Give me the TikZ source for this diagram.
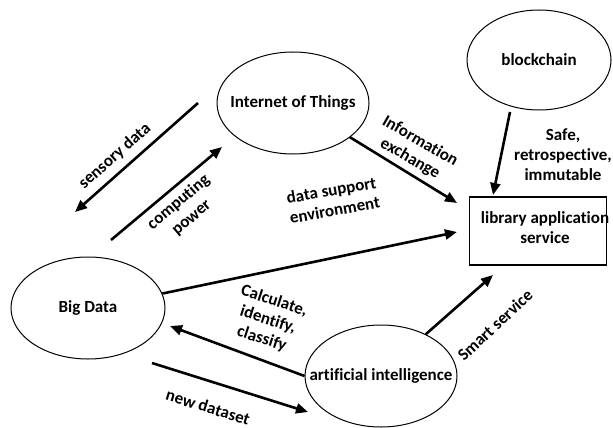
\documentclass[tikz,border=0pt]{standalone}
\usepackage{fontspec}
\setmainfont[Ligatures={NoCommon}]{Carlito}
\usetikzlibrary{arrows.meta,positioning,shapes.geometric}
\tikzstyle{bubble}=[ellipse, draw, line width=0.5pt, minimum width=76pt, minimum height=51pt, inner sep=0pt]
\tikzstyle{service}=[rectangle, draw, line width=0.7pt, minimum width=68.5pt, minimum height=34pt, inner sep=0pt]
\tikzstyle{flow}=[line width=1.3pt, -{Triangle[length=6pt,width=5pt]}]
\tikzstyle{tag}=[font=\bfseries\fontsize{8.5}{10}\selectfont, align=center, inner sep=0pt]

\begin{document}
\begin{tikzpicture}[x=0.5pt,y=-0.5pt]
	\useasboundingbox (0,0) rectangle (613,427);
	% the four fields
	\node[bubble, label={[tag]center:Internet of Things}] (iot) at (293,103) {};
	\node[bubble, minimum width=72pt, minimum height=50pt, label={[tag]center:blockchain}] (bc) at (539,60) {};
	\node[bubble, minimum width=77pt, label={[tag]center:Big Data}] (bd) at (88,308) {};
	\node[bubble, label={[tag]center:artificial intelligence}] (ai) at (381,376) {};
	\node[service, label={[tag,xshift=3.5pt,yshift=1.5pt]center:library application\\service}] (lib) at (538,231) {};
	% free arrow ends
	\coordinate (sd1) at (198,103);
	\coordinate (sd2) at (75,212);
	\coordinate (cp1) at (111,240);
	\coordinate (cp2) at (222,147);
	\coordinate (ie) at (457,203);
	\coordinate (bc1) at (510,112);
	\coordinate (bc2) at (493,195);
	\coordinate (ds) at (457,232);
	\coordinate (cc) at (170,326);
	\coordinate (nd1) at (152,363);
	\coordinate (nd2) at (308,412);
	\coordinate (sm) at (493,275);
	\path[flow]
	(sd1) edge (sd2)
	(cp1) edge (cp2)
	(iot.-31) edge (ie)
	(bc1) edge (bc2)
	(bd.11.5) edge (ds)
	(ai.west) edge (cc)
	(nd1) edge (nd2)
	(ai.43) edge (sm);
	% arrow texts
	\node[tag, rotate=41.5] (sdname) at (115,156) {sensory data};
	\node[tag, rotate=40] (cpname) at (185,210) {computing\\power};
	\node[tag, rotate=-30] (iename) at (415,150) {Information\\exchange};
	\node[tag] (bcname) at (563,155) {Safe,\\retrospective,\\immutable};
	\node[tag, rotate=10] (dsname) at (333,200) {data support\\environment};
	\node[tag, rotate=-18] (ccname) at (268,320) {Calculate,\\identify,\\classify};
	\node[tag, rotate=-17] (ndname) at (208,407) {new dataset};
	\node[tag, rotate=43] (smname) at (495,325) {Smart service};
\end{tikzpicture}
\end{document}
